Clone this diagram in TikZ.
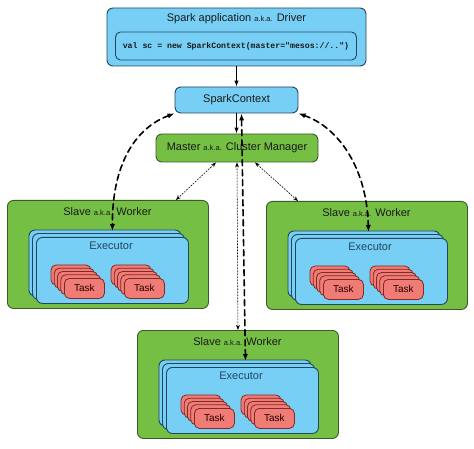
\documentclass[tikz,border=0pt]{standalone}
\usepackage{fontspec}
\setmainfont{Liberation Sans}
\setmonofont{Liberation Mono}
\usetikzlibrary{arrows.meta}

\definecolor{sparkblue}{HTML}{78CFF6}
\definecolor{sparkgreen}{HTML}{76BF45}
\definecolor{taskred}{HTML}{F17B75}
\definecolor{blueline}{HTML}{22465E}
\definecolor{greenline}{HTML}{3B5A27}
\definecolor{redline}{HTML}{7E2A26}

\newcommand{\aka}{{\fontsize{7.5}{8}\selectfont a.k.a.}}

\begin{document}
\begin{tikzpicture}[x=1pt,y=-1pt,line cap=round,line join=round,
  every node/.style={font=\fontsize{11}{13}\selectfont,text=black!90},
  bluebox/.style={draw=blueline,fill=sparkblue,line width=0.9pt,rounded corners=6pt,inner sep=0pt},
  greenbox/.style={draw=greenline,fill=sparkgreen,line width=0.9pt,rounded corners=6pt,inner sep=0pt},
  taskbox/.style={draw=redline,fill=taskred,line width=0.8pt,rounded corners=5pt,inner sep=0pt,
    minimum width=40pt,minimum height=20pt,font=\fontsize{10}{12}\selectfont,text=black!85!red},
  dotarrow/.style={{Stealth[length=5pt]}-{Stealth[length=5pt]},line width=0.6pt,dash pattern=on 1.5pt off 1.5pt},
  dasharrow/.style={{Latex[length=7pt]}-{Latex[length=7pt]},line width=1.6pt,dash pattern=on 6pt off 4pt},
  solidarrow/.style={-{Latex[length=6pt]},line width=1pt}]
  \useasboundingbox (0,0) rectangle (474,449);

  % driver
  \node[bluebox,minimum width=259pt,minimum height=58pt] (driver) at (236.5,37) {};
  \node (drivertitle) at (236.5,19) {Spark application \aka{} Driver};
  \node[bluebox,rounded corners=5pt,minimum width=241pt,minimum height=28pt,
    font=\ttfamily\bfseries\fontsize{8.2}{10}\selectfont] (code) at (236,46)
    {val sc = new SparkContext(master="mesos://..")};

  \node[bluebox,minimum width=123pt,minimum height=26pt] (ctx) at (236.5,100) {SparkContext};
  \node[greenbox,minimum width=162pt,minimum height=28pt] (master) at (237,148) {Master \aka{} Cluster Manager};

  % workers with executor and task stacks
  \foreach \wn/\wx/\wy in {wl/7/200,wr/266/201,wb/137/330}{
    \node[greenbox,anchor=north west,minimum width=201pt,minimum height=108pt] (\wn) at (\wx,\wy) {};
    \node (\wn-title) at ({\wx+100.5},{\wy+12}) {Slave \aka{} Worker};
    \foreach \s in {7,3.5}
      \draw[bluebox] ({\wx+29-\s},{\wy+37-\s}) rectangle ++(152,66);
    \node[bluebox,anchor=north west,minimum width=152pt,minimum height=66pt] (\wn-exec) at ({\wx+29},{\wy+37}) {};
    \node[text=blueline] (\wn-exectitle) at ({\wx+104},{\wy+46}) {Executor};
    \foreach \s in {13,9.75,6.5,3.25}{
      \draw[taskbox] ({\wx+57-\s},{\wy+78-\s}) rectangle ++(40,20);
      \draw[taskbox] ({\wx+117-\s},{\wy+78-\s}) rectangle ++(40,20);
    }
    \node[taskbox,anchor=north west] (\wn-taska) at ({\wx+57},{\wy+78}) {Task};
    \node[taskbox,anchor=north west] (\wn-taskb) at ({\wx+117},{\wy+78}) {Task};
  }

  % connectors
  \draw[solidarrow] (driver.south) -- (ctx.north);
  \draw[solidarrow] (ctx.south) -- (ctx.south |- master.north);

  \draw[dotarrow] ([xshift=-21pt]master.south) -- ([xshift=-33pt]wl.north east);
  \draw[dotarrow] ([xshift=18pt]master.south) -- ([xshift=32pt]wr.north west);
  \draw[dotarrow] (master.south) -- (wb.north);

  \draw[dasharrow] (ctx.south west) .. controls (135,128) and (112,165) .. ([yshift=6pt]wl-exec.north);
  \draw[dasharrow] (ctx.south east) .. controls (340,128) and (367,170) .. ([xshift=-3pt,yshift=6pt]wr-exec.north);
  \draw[dasharrow] ([xshift=5pt]ctx.south) -- ([xshift=3pt,yshift=6pt]wb-exec.north);
\end{tikzpicture}
\end{document}
